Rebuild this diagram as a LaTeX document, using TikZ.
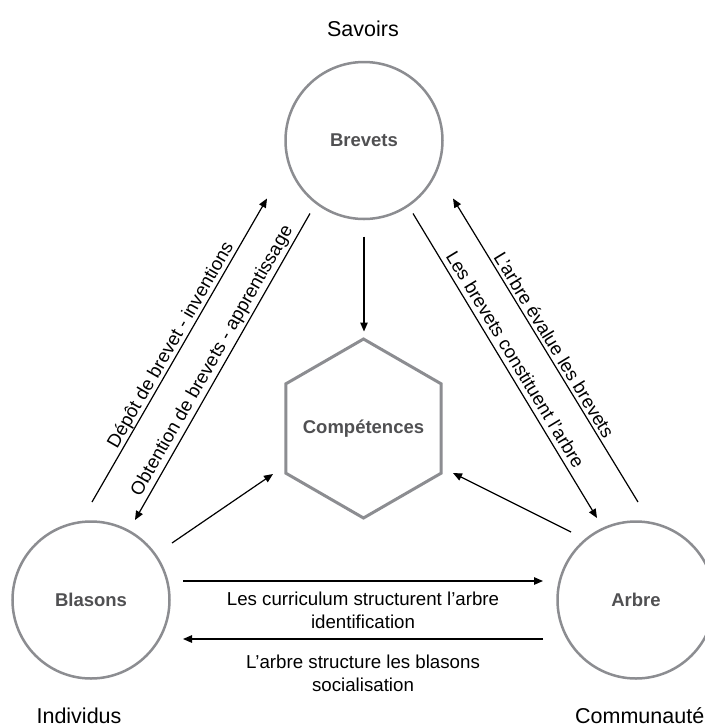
\documentclass[tikz,border=0pt]{standalone}
\usepackage{fontspec}
\setmainfont{Liberation Sans}
\usetikzlibrary{arrows.meta,calc,shapes.geometric}
\definecolor{ringgray}{RGB}{140,141,145}
\definecolor{txtgray}{RGB}{80,80,82}
\begin{document}
\begin{tikzpicture}[x=1pt,y=-1pt,
  ring/.style={circle,draw=ringgray,line width=2.5pt,minimum size=157pt,inner sep=0pt,
    text=txtgray,font=\fontsize{18.5}{22}\selectfont\bfseries},
  hexa/.style={regular polygon,regular polygon sides=6,shape border rotate=30,
    draw=ringgray,line width=3pt,minimum size=179pt,inner sep=0pt},
  boldtxt/.style={inner sep=0pt,text=txtgray,font=\fontsize{18.5}{22}\selectfont\bfseries},
  arr/.style={-{Triangle[length=9pt,width=7.5pt]},line width=1.2pt},
  lab/.style={font=\fontsize{18.7}{22.5}\selectfont,inner sep=0pt,text depth=0pt,sloped},
  labtwo/.style={font=\fontsize{18.7}{22.5}\selectfont,inner sep=0pt,align=center},
  corner/.style={font=\fontsize{21.5}{25}\selectfont,inner sep=0pt}]
\useasboundingbox (0,0) rectangle (705,724);
\fill[white] (0,0) rectangle (705,724);
\clip (0,0) rectangle (705,724);

\node[ring] (brevets) at (364,140.5) {Brevets};
\node[hexa] (comp) at (363.5,428.5) {};
\node[boldtxt] (comptxt) at (comp.center) {Compétences};
\node[ring] (blasons) at (91,600) {Blasons};
\node[ring] (arbre) at (636,600) {Arbre};

\node[corner,anchor=base] (savoirs) at (363,36) {Savoirs};
\node[corner,anchor=base] (indiv) at (79,723.5) {Individus};
\node[corner,anchor=base west] (comm) at (575,723.5) {Communauté};

% left pair
\draw[arr] ($(blasons)+(1,-98)$) -- node[lab,above=4pt] (ldep) {Dépôt de brevet - inventions} ($(brevets)+(-97,58)$);
\draw[arr] ($(brevets)+(-54,73)$) -- node[lab,above=6pt] (lobt) {Obtention de brevets - apprentissage} ($(blasons)+(44,-80)$);
% right pair
\draw[arr] ($(arbre)+(2,-98)$) -- node[lab,above=3pt] (leval) {L’arbre évalue les brevets} ($(brevets)+(89,58)$);
\draw[arr] ($(brevets)+(49,73)$) -- node[lab,above=5pt] (lconst) {Les brevets constituent l’arbre} ($(arbre)+(-39,-82)$);

% towards competences
\draw[arr] ($(brevets)+(0,96)$) -- ($(comp)+(0.5,-97)$);
\draw[arr] ($(blasons)+(81,-57)$) -- ($(comp)+(-90.5,45.5)$);
\draw[arr] ($(arbre)+(-65,-68)$) -- ($(comp)+(89.5,44.5)$);

% horizontal pair
\draw[arr] ($(blasons)+(92,-19)$) -- node[labtwo,below=10.4pt] (lcurr) {Les curriculum structurent l’arbre\\identification} ($(arbre)+(-93,-19)$);
\draw[arr] ($(arbre)+(-93,39)$) -- node[labtwo,below=15.4pt] (lsoc) {L’arbre structure les blasons\\socialisation} ($(blasons)+(92,39)$);
\end{tikzpicture}
\end{document}
